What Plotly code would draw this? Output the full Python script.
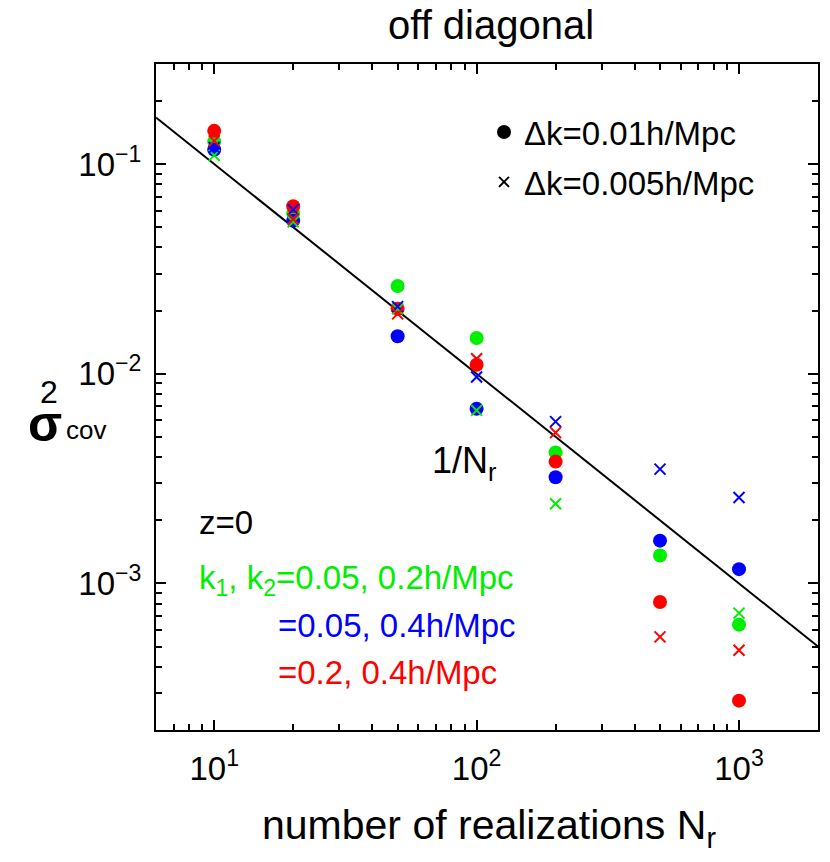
import plotly.graph_objects as go

# sigma^2_cov for off-diagonal covariance vs number of realizations
n_real = [10, 20, 50, 100, 200, 500, 1000]

# dk = 0.01 h/Mpc (circles)
green_circ = [0.128, 0.0584, 0.0262, 0.0148, 0.00421, 0.00136, 0.000636]
blue_circ = [0.117, 0.0537, 0.0151, 0.00681, 0.00321, 0.00160, 0.00117]
red_circ = [0.144, 0.0629, 0.0204, 0.01104, 0.00381, 0.000815, 0.000276]

# dk = 0.005 h/Mpc (crosses)
green_x = [0.110, 0.0530, 0.0204, 0.00669, 0.00240, None, 0.000722]
blue_x = [0.120, 0.0606, 0.0209, 0.00965, 0.00591, 0.00351, 0.00257]
red_x = [0.129, 0.0547, 0.0193, 0.01179, 0.00524, 0.000556, 0.000480]

# 1/N_r reference line
line_x = [6, 2000]
line_y = [0.16667, 0.0005]

x_ticks = [10, 100, 1000]
x_ticktext = ["10<sup>1</sup>", "10<sup>2</sup>", "10<sup>3</sup>"]
y_ticks = [0.001, 0.01, 0.1]
y_ticktext = ["10<sup>−3</sup>", "10<sup>−2</sup>", "10<sup>−1</sup>"]

GREEN = "#00ee00"
BLUE = "#0000ff"
RED = "#ff0000"
FONT = "Liberation Sans, Arial, sans-serif"

fig = go.Figure()

fig.add_trace(go.Scatter(x=line_x, y=line_y, mode="lines",
                         line=dict(color="black", width=2), showlegend=False))

for ys, c in [(green_circ, GREEN), (blue_circ, BLUE), (red_circ, RED)]:
    fig.add_trace(go.Scatter(x=n_real, y=ys, mode="markers", showlegend=False,
                             marker=dict(symbol="circle", size=14, color=c)))
for ys, c in [(green_x, GREEN), (blue_x, BLUE), (red_x, RED)]:
    fig.add_trace(go.Scatter(x=n_real, y=ys, mode="markers", showlegend=False,
                             marker=dict(symbol="x-thin", size=11, color=c,
                                         line=dict(color=c, width=2))))

# legend entries (black symbols)
fig.add_trace(go.Scatter(x=[None], y=[None], mode="markers", name="Δk=0.01h/Mpc",
                         legendgroup="a",
                         marker=dict(symbol="circle", size=14, color="black")))
fig.add_trace(go.Scatter(x=[None], y=[None], mode="markers", name="Δk=0.005h/Mpc",
                         legendgroup="b",
                         marker=dict(symbol="x-thin", size=10, color="black",
                                     line=dict(color="black", width=2))))

axis_common = dict(
    type="log", showline=True, linecolor="black", linewidth=2, mirror="ticks",
    ticks="inside", ticklen=10, tickwidth=2, tickcolor="black",
    showgrid=False, zeroline=False,
    tickfont=dict(family=FONT, size=33, color="black"),
)

minor_x = [7, 8, 9, 20, 30, 40, 50, 60, 70, 80, 90,
           200, 300, 400, 500, 600, 700, 800, 900, 2000]
minor_y = [0.0002, 0.0003, 0.0004, 0.0005, 0.0006, 0.0007, 0.0008, 0.0009,
           0.002, 0.003, 0.004, 0.005, 0.006, 0.007, 0.008, 0.009,
           0.02, 0.03, 0.04, 0.05, 0.06, 0.07, 0.08, 0.09, 0.2, 0.3]

fig.update_xaxes(**axis_common, range=[0.77815, 3.30103],
                 tickvals=x_ticks, ticktext=x_ticktext, ticklabelstandoff=8,
                 minor=dict(tickvals=minor_x, ticks="inside", ticklen=6,
                            tickwidth=1.5, tickcolor="black", showgrid=False))
fig.update_yaxes(**axis_common, range=[-3.69897, -0.52288],
                 tickvals=y_ticks, ticktext=y_ticktext, ticklabelstandoff=6,
                 minor=dict(tickvals=minor_y, ticks="inside", ticklen=6,
                            tickwidth=1.5, tickcolor="black", showgrid=False))


# page pixel -> paper fraction (plot area spans x 156..820, y 64..730 on the page)
def px(x):
    return (x - 156) / 664


def py(y):
    return (730 - y) / 666


annotations = [
    dict(text="off diagonal", x=px(492), y=py(25), size=40, color="black", xanchor="center"),
    dict(text="number of realizations N<sub>r</sub>", x=px(490), y=py(828), size=41,
         color="black", xanchor="center"),
    dict(text="1/N<sub>r</sub>", x=px(431), y=py(463), size=36, color="black", xanchor="left"),
    dict(text="z=0", x=px(197), y=py(522), size=33, color="black", xanchor="left"),
    dict(text="k<sub>1</sub>, k<sub>2</sub>=0.05, 0.2h/Mpc", x=px(197), y=py(580), size=33,
         color=GREEN, xanchor="left"),
    dict(text="=0.05, 0.4h/Mpc", x=px(276), y=py(625), size=33, color=BLUE, xanchor="left"),
    dict(text="=0.2, 0.4h/Mpc", x=px(276), y=py(672), size=33, color=RED, xanchor="left"),
    dict(text="<b>σ</b>", x=px(45), y=py(424), size=50, color="black", xanchor="center"),
    dict(text="2", x=px(49), y=py(392), size=32, color="black", xanchor="center"),
    dict(text="cov", x=px(64), y=py(430), size=26, color="black", xanchor="left"),
]
for a in annotations:
    fig.add_annotation(text=a["text"], x=a["x"], y=a["y"], xref="paper", yref="paper",
                       xanchor=a["xanchor"], yanchor="middle", showarrow=False,
                       font=dict(family=FONT, size=a["size"], color=a["color"]))

# the page body adds an 8px offset, so the figure is 8px smaller than the window
fig.update_layout(
    width=822, height=854,
    margin=dict(l=148, r=10, t=56, b=132),
    plot_bgcolor="white", paper_bgcolor="white",
    font=dict(family=FONT, color="black"),
    legend=dict(x=px(485), y=py(104), xanchor="left", yanchor="top",
                bgcolor="rgba(0,0,0,0)", tracegroupgap=4,
                font=dict(family=FONT, size=33, color="black")),
    showlegend=True,
)

fig.write_html("out.html")
